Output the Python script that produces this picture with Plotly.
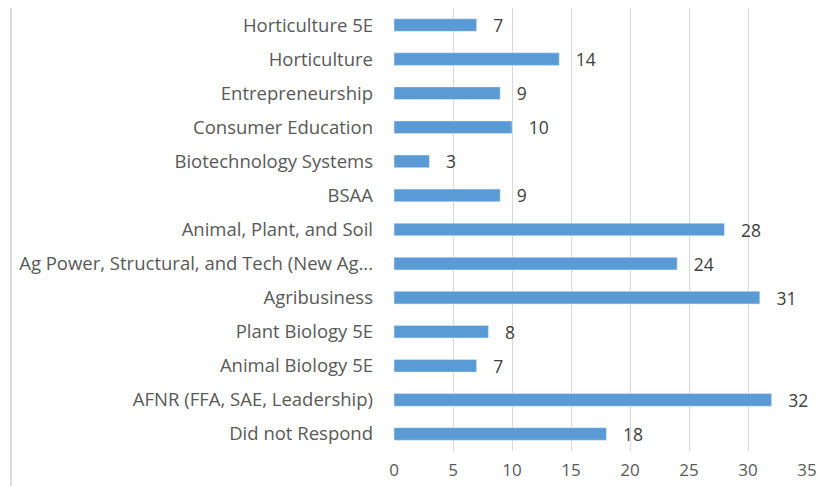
import plotly.graph_objects as go

categories = ["Horticulture 5E", "Horticulture", "Entrepreneurship", "Consumer Education",
              "Biotechnology Systems", "BSAA", "Animal, Plant, and Soil",
              "Ag Power, Structural, and Tech (New Ag...", "Agribusiness", "Plant Biology 5E",
              "Animal Biology 5E", "AFNR (FFA, SAE, Leadership)", "Did not Respond"]
values = [7, 14, 9, 10, 3, 9, 28, 24, 31, 8, 7, 32, 18]
x_ticks = [0, 5, 10, 15, 20, 25, 30, 35]

# page has an 8px body margin; compensate so plot lands where the reference has it
W, H = 826, 478
L, R, T, B = 386, 27, 0, 35

fig = go.Figure(go.Bar(
    y=categories, x=values, orientation="h",
    marker=dict(color="#5B9BD5"),
    text=values, texttemplate="\u00a0\u00a0\u00a0%{text}", textposition="outside",
    constraintext="none",
    textfont=dict(size=17.5, color="#404040"),
    cliponaxis=False,
))

fig.update_layout(
    width=W, height=H,
    margin=dict(l=L, r=R, t=T, b=B),
    paper_bgcolor="white", plot_bgcolor="white",
    font=dict(family="Open Sans, Liberation Sans, sans-serif", size=17, color="#595959"),
    bargap=0.63,
    showlegend=False,
    xaxis=dict(range=[0, 35], tickvals=x_ticks, showgrid=True, gridcolor="#d9d9d9",
               gridwidth=1, zeroline=False, showline=False,
               ticks="outside", ticklen=4, tickcolor="rgba(0,0,0,0)",
               tickfont=dict(size=17, color="#595959")),
    yaxis=dict(categoryorder="array", categoryarray=categories[::-1],
               showgrid=False, zeroline=False, showline=False, ticks="",
               ticklabelstandoff=20, tickfont=dict(size=18.5, color="#595959")),
    shapes=[dict(type="line", xref="paper", yref="paper",
                 x0=-(L - 3) / (W - L - R), x1=-(L - 3) / (W - L - R),
                 y0=-B / (H - T - B), y1=1,
                 line=dict(color="#d0d0d0", width=1.5))],
)

fig.write_html("out.html")
